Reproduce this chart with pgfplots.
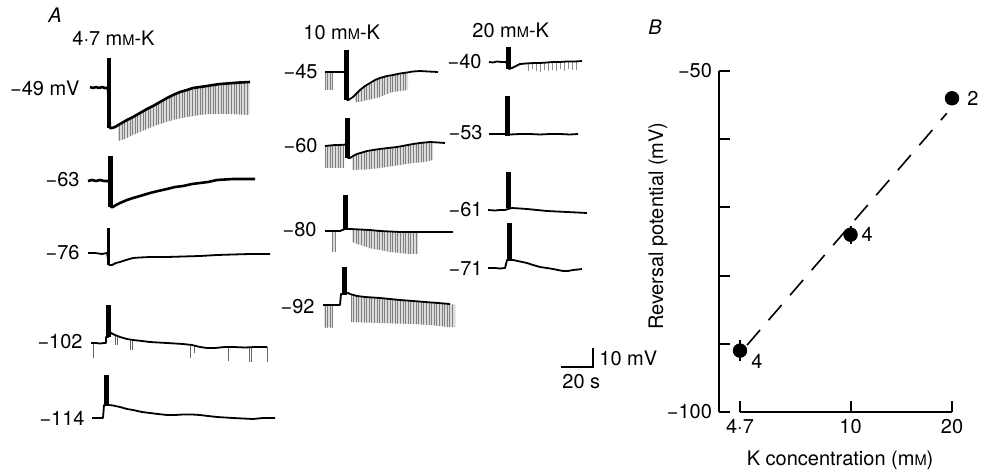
\documentclass[border=0pt]{standalone}
\usepackage{pgfplots}
\pgfplotsset{compat=1.18}
\usepackage{fontspec}
\setmainfont{TeX Gyre Heros}
\usetikzlibrary{patterns.meta}
\newcommand{\mM}{m{\fontsize{7.3}{8}\selectfont M}}
\tikzset{
  trace/.style={black, line width=0.9pt, line join=round},
  thicktrace/.style={black, line width=1.3pt, line join=round},
  spikes/.style={draw=none, fill=black!14, postaction={pattern={Lines[angle=90,distance=1.3pt,line width=0.4pt]}, pattern color=black!50}},
  lbl/.style={anchor=east, inner sep=0pt},
  hdr/.style={anchor=west, inner sep=0pt},
}
\begin{document}
\fontsize{10}{12}\selectfont
\begin{tikzpicture}
\useasboundingbox (0,0) rectangle (491.5pt,237.5pt);
% ---------------- Panel A (coordinates in figure pixels) ----------------
\begin{axis}[at={(0,0)}, anchor=south west, x=0.5pt, y=0.5pt,
  xmin=0, xmax=983, ymin=0, ymax=475, y dir=reverse, hide axis, clip=false]
% ===== 4.7 mM-K =====
% -49 mV
\addplot[spikes] coordinates {(118,126)(127,120)(133,117)(140,113)(147,109)(153,106)(160,102)(167,98)(173,95)(180,92)(187,90)(193,88)(200,87)(207,86)(213,85)(220,84)(227,83.5)(233,83)(240,82.5)(249,82)
  (249,115)(230,114)(210,114)(200,115)(187,117)(173,120)(160,124)(147,129)(133,135)(125,139)(118,141)} -- cycle;
\addplot[thicktrace] coordinates {(90,87)(93,88)(96,87)(99,88)(102,87)(105,88)(108,88)(110,128)(112,128)(115,127)(120,124)(127,120)(133,117)(140,113)(147,109)(153,106)(160,102)(167,98)(173,95)(180,92)(187,90)(193,88)(200,87)(207,86)(213,85)(220,84)(227,83.5)(233,83)(240,82.5)(250,82)};
\addplot[black, line width=2pt] coordinates {(109,58)(109,128)};
% -63
\addplot[thicktrace] coordinates {(88,181)(92,180)(96,181)(100,180)(104,181)(109,181)(111,207)(113,207)(116,205)(120,203)(127,200)(133,198)(140,196)(150,193)(158,191)(167,189)(175,187)(183,186)(192,184)(200,183)(208,182)(217,180)(225,179.5)(233,179)(245,179)(255,179)};
\addplot[black, line width=2.5pt] coordinates {(110.5,156)(110.5,207)};
% -76
\addplot[trace] coordinates {(88,253)(95,253)(102,254)(107,253)(109,265)(112,265)(116,263)(120,262)(126,260)(133,258)(140,257.5)(150,257)(167,257)(183,256.5)(200,256)(217,255)(233,254.5)(250,254)(270,254)};
\addplot[black, line width=1.6pt] coordinates {(108.5,228)(108.5,265)};
% -102
\addplot[draw=none, error bars/.cd, y dir=plus, y explicit, error mark=none,
  error bar style={black!60, line width=0.4pt}] coordinates {
  (93,343) += (0,15) (115,335) += (0,10) (117,336) += (0,9) (130,340) += (0,10) (132,340) += (0,10)
  (190,345.5) += (0,12) (194,346) += (0,7) (228,347) += (0,14) (249,347.5) += (0,14) (251,347.5) += (0,14) (267,347) += (0,15)};
\addplot[trace] coordinates {(91,343)(96,343)(100,343.5)(104,343)(106,343)(106,337)(108,337)(111,333)(115,335)(120,337)(127,339)(133,340)(142,341)(150,342)(158,342.5)(167,343)(175,343.5)(183,344)(192,345)(200,347)(207,348)(215,348)(225,347)(233,347)(245,347.5)(255,347)(267,347)};
\addplot[black, line width=2.5pt] coordinates {(108.5,305)(108.5,337)};
% -114
\addplot[trace] coordinates {(92,418)(96,418)(100,418)(103,418)(104,405)(109,405)(113,405.5)(120,407)(127,409)(133,410)(142,412)(150,413)(158,414)(167,415)(175,415)(183,414.5)(192,414.5)(200,415)(208,416)(217,417)(225,417.5)(233,418)(243,418.5)(253,419)(263,418)(275,418)};
\addplot[black, line width=2.5pt] coordinates {(106.5,375)(106.5,405)};
% ===== 10 mM-K =====
% -45
\addplot[spikes] coordinates {(325,72)(333,72)(333,90)(325,90)} -- cycle;
\addplot[spikes] coordinates {(355,95)(360,90)(365,86)(370,83)(375,80)(380,78)(387,76)(393,75)(400,73.5)(408,72.5)
  (408,90)(400,91)(393,92)(387,94)(380,97)(373,99)(367,100)(360,102)(355,102)} -- cycle;
\addplot[trace] coordinates {(325,72)(330,72)(335,72)(340,72)(346,72)(347,100)(348,100)(350,99)(353,97)(356,94)(360,90)(365,86)(370,83)(375,80)(380,78)(387,76)(393,75)(400,73.5)(407,72.5)(413,71.5)(420,71)(428,71.5)(438,72)};
\addplot[black, line width=2.5pt] coordinates {(346.5,50)(346.5,100)};
% -60
\addplot[spikes] coordinates {(325,146)(344,144.5)(344,168)(325,168)} -- cycle;
\addplot[spikes] coordinates {(352,156)(357,154)(362,152.5)(367,151)(373,150)(380,149)(388,148)(397,147)(405,145.5)(413,144)(420,143)(433,142)
  (433,160)(425,162)(413,163)(400,165)(380,168)(365,169.5)(352,170)} -- cycle;
\addplot[trace] coordinates {(325,146)(330,145.5)(335,145)(340,145)(346,144.5)(348,158)(350,158)(353,156)(357,154)(362,152.5)(367,151)(373,150)(380,149)(388,148)(397,147)(405,145.5)(413,144)(420,143)(430,142)(438,142.5)(445,143)};
\addplot[black, line width=2.5pt] coordinates {(347.5,118)(347.5,158)};
% -80
\addplot[spikes] coordinates {(332,231)(336,231)(336,252)(332,252)} -- cycle;
\addplot[spikes] coordinates {(352,229)(360,229.5)(370,230)(380,231)(390,231.5)(400,232)(418,232)
  (418,254)(410,254)(400,253)(390,252)(380,250)(373,249)(367,247)(360,245)(352,242)} -- cycle;
\addplot[trace] coordinates {(325,231)(330,231)(335,231)(340,231)(345,229)(350,229)(360,229.5)(370,230)(380,231)(390,231.5)(400,232)(413,232)(425,232)(438,232)(453,232)};
\addplot[black, line width=2.5pt] coordinates {(345,195)(345,230)};
% -92
\addplot[spikes] coordinates {(324,305)(333,305)(333,327)(324,327)} -- cycle;
\addplot[spikes] coordinates {(351,294)(357,296)(365,297)(373,297.5)(380,298)(390,299)(400,300)(413,301)(425,302)(438,303)(455,304.5)
  (455,327)(448,327)(430,325)(413,324)(395,323.5)(380,323)(365,322.5)(351,322)} -- cycle;
\addplot[trace] coordinates {(323,305)(331,305)(340,305)(341,294)(348,293)(350,294)(357,296)(365,297)(373,297.5)(380,298)(390,299)(400,300)(413,301)(425,302)(438,303)(450,304)};
\addplot[black, line width=2.5pt] coordinates {(344.5,267)(344.5,295)};
% ===== 20 mM-K =====
% -40
\addplot[draw=none, error bars/.cd, y dir=plus, y explicit, error mark=none,
  error bar style={black!45, line width=0.4pt}] coordinates {
  (528,63.5) += (0,8) (532,63.5) += (0,6) (536,63.2) += (0,8) (540,63) += (0,9) (544,63) += (0,7) (548,62.5) += (0,9)
  (552,62.2) += (0,8) (556,62) += (0,9) (560,62) += (0,7) (564,61.8) += (0,9) (568,61.5) += (0,8) (572,61.5) += (0,9) (576,61.3) += (0,9)};
\addplot[trace] coordinates {(489,62)(493,62.5)(497,61.5)(501,62)(506,62)(509,69)(512,68)(516,66)(520,64)(526,63.5)(533,63)(540,63)(547,62.5)(553,62)(560,62)(567,61.5)(575,61.5)(582,61)};
\addplot[black, line width=2.5pt] coordinates {(508.5,47)(508.5,69)};
% -53
\addplot[trace] coordinates {(489,134)(495,134)(500,134)(505,134)(510,134.5)(520,134)(530,134)(540,134.5)(550,134)(560,134)(570,134.5)(578,134)};
\addplot[black, line width=2.5pt] coordinates {(507.5,96)(507.5,136)};
% -61
\addplot[trace] coordinates {(488,210)(495,210.5)(500,210)(505,210)(508,209)(512,208)(520,208.5)(527,209)(537,210)(547,211)(557,211.5)(567,212)(577,212.5)(587,213)};
\addplot[black, line width=2.5pt] coordinates {(508,172)(508,208)};
% -71
\addplot[trace] coordinates {(488,268)(495,268)(500,268.5)(505,268)(507,260)(513,260)(520,261.5)(527,263)(533,265)(540,267)(547,268)(553,269)(558,270)(563,271)(568,271)(573,270)(578,269.5)(582,269)};
\addplot[black, line width=2.5pt] coordinates {(509.5,223)(509.5,260)};
% scale bar: 20 s, 10 mV
\addplot[black, line width=1pt] coordinates {(561,366.5)(593,366.5)(593,348)};
\node[anchor=west, inner sep=0pt] at (axis cs:599,358) {10 mV};
\node[anchor=west, inner sep=0pt] at (axis cs:562,382) {20 s};
% labels
\node[inner sep=0pt] at (axis cs:55,15) {\itshape A};
\node[inner sep=0pt] at (axis cs:655,27) {\itshape B};
\node[hdr] at (axis cs:72,38) {4·7 \mM-K};
\node[hdr] at (axis cs:303,32) {10 \mM-K};
\node[hdr] at (axis cs:472,30) {20 \mM-K};
\node[lbl] at (axis cs:80,88) {−49 mV};
\node[lbl] at (axis cs:80,180) {−63};
\node[lbl] at (axis cs:80,253) {−76};
\node[lbl] at (axis cs:83,342) {−102};
\node[lbl] at (axis cs:85,418) {−114};
\node[lbl] at (axis cs:318,72) {−45};
\node[lbl] at (axis cs:318,146) {−60};
\node[lbl] at (axis cs:317,230) {−80};
\node[lbl] at (axis cs:315,307) {−92};
\node[lbl] at (axis cs:482,62) {−40};
\node[lbl] at (axis cs:483,133) {−53};
\node[lbl] at (axis cs:483,210) {−61};
\node[lbl] at (axis cs:483,268) {−71};
\end{axis}
% ---------------- Panel B ----------------
\begin{axis}[at={(370pt,31.5pt)}, anchor=south west, scale only axis,
  width=106pt, height=170.5pt,
  xmode=log, xmin=4.7, xmax=20, ymin=-100, ymax=-50,
  axis x line*=bottom, axis y line*=left, axis y line shift=10.5pt,
  axis line style={line width=1pt, -},
  xtick={4.7,10,20}, xticklabels={4·7,10,20},
  ytick={-100,-90,-80,-70,-60,-50}, yticklabels={−100,{},{},{},{},−50},
  xminorticks=false, yminorticks=false,
  tick align=inside, major tick length=5.5pt,
  major tick style={line width=1pt, black},
  clip=false,
  xlabel={K concentration (\mM)}, ylabel={Reversal potential (mV)},
  every axis x label/.style={at={(axis description cs:0.472,-0.141)}, anchor=center},
  every axis y label/.style={at={(axis description cs:-0.387,0.545)}, rotate=90, anchor=center},
]
\addplot[black, line width=0.8pt, dash pattern=on 10pt off 6.5pt] coordinates {(4.93,-90.2)(19.3,-56.2)};
\addplot[only marks, mark=*, mark size=3.4pt, black,
  error bars/.cd, y dir=both, y explicit, error mark=none, error bar style={line width=1pt}]
  coordinates {(4.7,-91.0) +- (0,1.5) (10,-74.0) +- (0,1.3) (20,-54.0) +- (0,0)};
\node[inner sep=0pt] at (axis cs:5.28,-92.6) {4};
\node[inner sep=0pt] at (axis cs:11.2,-74.0) {4};
\node[inner sep=0pt] at (axis cs:23.06,-54.0) {2};
\end{axis}
\end{tikzpicture}
\end{document}
